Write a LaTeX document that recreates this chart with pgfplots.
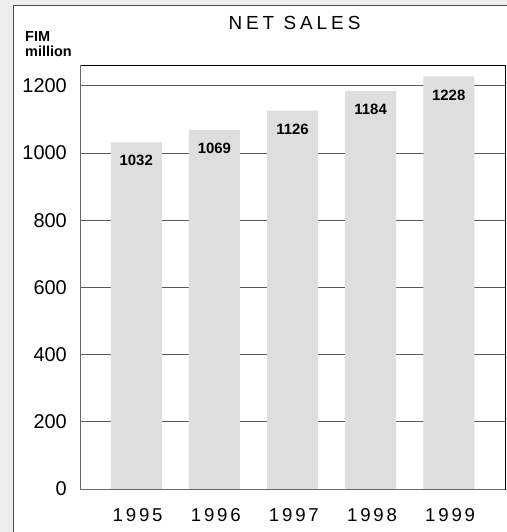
\documentclass[border=0pt]{standalone}
\usepackage{fontspec}
\setmainfont{Liberation Sans}
\usepackage{pgfplots}
\pgfplotsset{compat=1.18}
\definecolor{bargray}{HTML}{DEDEDE}
\definecolor{bggray}{HTML}{EDEDED}
\definecolor{gridgray}{HTML}{5A5A5A}
\definecolor{axgray}{HTML}{6A6A6A}
\begin{document}
\begin{tikzpicture}
\useasboundingbox (0bp,0bp) rectangle (507bp,-532bp);
\fill[bggray] (0bp,0bp) rectangle (507bp,-532bp);
\fill[white] (13bp,-5bp) rectangle (520bp,-545bp);
\draw[black!70, line width=1bp] (13bp,-545bp) -- (13bp,-5bp) -- (520bp,-5bp);
\node[anchor=base, inner sep=0pt] at (294.5bp,-29bp)
  {\fontsize{19}{19}\selectfont\addfontfeatures{LetterSpace=21}NET SALES};
\node[anchor=north west, inner sep=0pt, align=left, font=\fontsize{14.5}{15}\selectfont\bfseries] at (25bp,-31bp)
  {FIM\\million};
\begin{axis}[
  at={(80bp,-489bp)}, anchor=south west,
  scale only axis, width=425bp, height=424bp,
  xmin=-0.72, xmax=4.72, ymin=0, ymax=1262,
  ybar, bar width=51bp,
  xtick={0,1,2,3,4},
  xticklabels={1995,1996,1997,1998,1999},
  ytick={0,200,400,600,800,1000,1200},
  major tick length=0pt,
  ymajorgrids, grid style={gridgray, line width=1bp},
  axis line style={black, line width=1bp},
  clip=false,
  /pgf/number format/assume math mode=true,
  /pgf/number format/1000 sep={},
  yticklabel style={font=\fontsize{20}{20}\selectfont, anchor=east, inner sep=0pt, xshift=-13bp},
  xticklabel style={font=\fontsize{18.7}{18.7}\selectfont\addfontfeatures{LetterSpace=15}, anchor=north, inner sep=0pt, yshift=-19bp, xshift=1.4bp},
  nodes near coords,
  nodes near coords style={anchor=center, inner sep=0pt, yshift=-18.5bp, font=\fontsize{15}{15}\selectfont\bfseries, /pgf/number format/1000 sep={}},
]
\addplot[fill=bargray, draw=none] coordinates {(0,1032) (1,1069) (2,1126) (3,1184) (4,1228)};
\draw[axgray, line width=1bp] (rel axis cs:0,1) -- (rel axis cs:0,0) -- (rel axis cs:1,0);
\end{axis}
\end{tikzpicture}
\end{document}
